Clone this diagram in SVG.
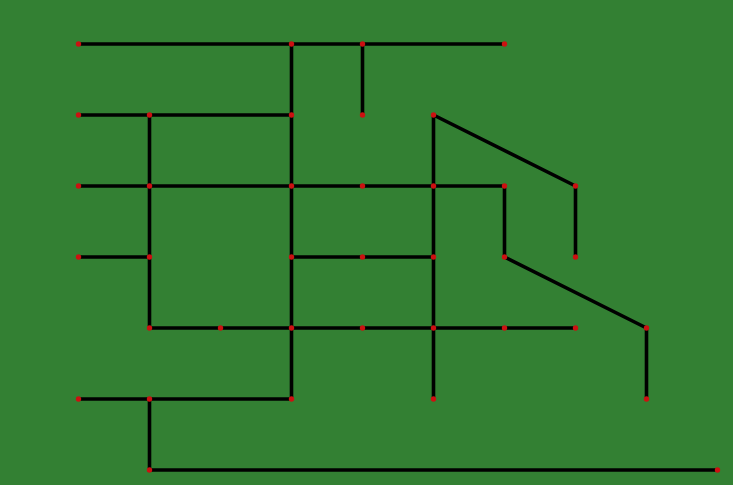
<svg xmlns="http://www.w3.org/2000/svg" width="733" height="485" viewBox="0 0 733 485">
<style>
.e{stroke:#000;stroke-width:3.6;fill:none;stroke-linecap:butt}
.n{fill:#cc1111}
</style>
<defs><circle id="d" r="2.7" class="n"/></defs>
<rect width="733" height="485" fill="#338033"/>
<g id="connectors" class="e">
<path d="M78.5 44H504.5"/>
<path d="M291.5 44V399"/>
<path d="M362.5 44V115"/>
<path d="M78.5 115H291.5"/>
<path d="M149.5 115V328"/>
<path d="M433.5 115L575.5 186V257"/>
<path d="M433.5 115V399"/>
<path d="M78.5 186H504.5V257L646.5 328V399"/>
<path d="M78.5 257H149.5"/>
<path d="M291.5 257H433.5"/>
<path d="M149.5 328H575.5"/>
<path d="M78.5 399H291.5"/>
<path d="M149.5 399V470H717.5"/>
</g>
<g id="n0_0"><use href="#d" x="78.5" y="44"/></g>
<g id="n3_0"><use href="#d" x="291.5" y="44"/></g>
<g id="n4_0"><use href="#d" x="362.5" y="44"/></g>
<g id="n6_0"><use href="#d" x="504.5" y="44"/></g>
<g id="n0_1"><use href="#d" x="78.5" y="115"/></g>
<g id="n1_1"><use href="#d" x="149.5" y="115"/></g>
<g id="n3_1"><use href="#d" x="291.5" y="115"/></g>
<g id="n4_1"><use href="#d" x="362.5" y="115"/></g>
<g id="n5_1"><use href="#d" x="433.5" y="115"/></g>
<g id="n0_2"><use href="#d" x="78.5" y="186"/></g>
<g id="n1_2"><use href="#d" x="149.5" y="186"/></g>
<g id="n3_2"><use href="#d" x="291.5" y="186"/></g>
<g id="n4_2"><use href="#d" x="362.5" y="186"/></g>
<g id="n5_2"><use href="#d" x="433.5" y="186"/></g>
<g id="n6_2"><use href="#d" x="504.5" y="186"/></g>
<g id="n7_2"><use href="#d" x="575.5" y="186"/></g>
<g id="n0_3"><use href="#d" x="78.5" y="257"/></g>
<g id="n1_3"><use href="#d" x="149.5" y="257"/></g>
<g id="n3_3"><use href="#d" x="291.5" y="257"/></g>
<g id="n4_3"><use href="#d" x="362.5" y="257"/></g>
<g id="n5_3"><use href="#d" x="433.5" y="257"/></g>
<g id="n6_3"><use href="#d" x="504.5" y="257"/></g>
<g id="n7_3"><use href="#d" x="575.5" y="257"/></g>
<g id="n1_4"><use href="#d" x="149.5" y="328"/></g>
<g id="n2_4"><use href="#d" x="220.5" y="328"/></g>
<g id="n3_4"><use href="#d" x="291.5" y="328"/></g>
<g id="n4_4"><use href="#d" x="362.5" y="328"/></g>
<g id="n5_4"><use href="#d" x="433.5" y="328"/></g>
<g id="n6_4"><use href="#d" x="504.5" y="328"/></g>
<g id="n7_4"><use href="#d" x="575.5" y="328"/></g>
<g id="n8_4"><use href="#d" x="646.5" y="328"/></g>
<g id="n0_5"><use href="#d" x="78.5" y="399"/></g>
<g id="n1_5"><use href="#d" x="149.5" y="399"/></g>
<g id="n3_5"><use href="#d" x="291.5" y="399"/></g>
<g id="n5_5"><use href="#d" x="433.5" y="399"/></g>
<g id="n8_5"><use href="#d" x="646.5" y="399"/></g>
<g id="n1_6"><use href="#d" x="149.5" y="470"/></g>
<g id="n9_6"><use href="#d" x="717.5" y="470"/></g>
</svg>
